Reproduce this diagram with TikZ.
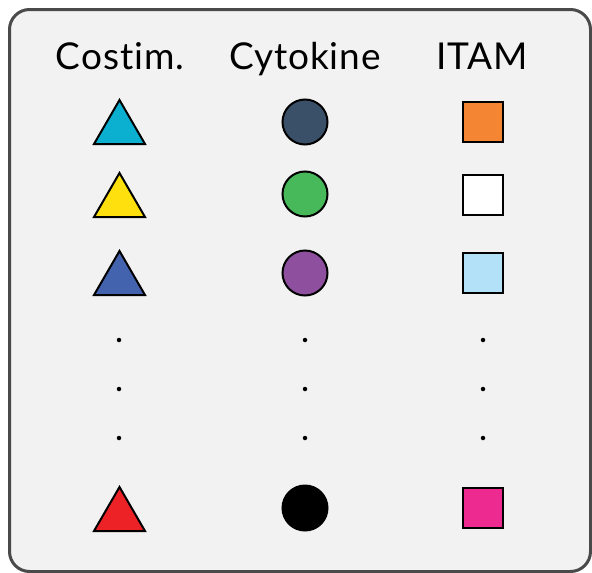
\documentclass[tikz,border=0pt]{standalone}
\usepackage{fontspec}
\setmainfont{Lato}[LetterSpace=2.5, Ligatures={NoCommon}]
\definecolor{bg}{HTML}{F2F2F2}
\definecolor{frame}{HTML}{4A4A4A}
\definecolor{tcyan}{HTML}{0BAFD0}
\definecolor{tyellow}{HTML}{FFE00F}
\definecolor{tblue}{HTML}{4463AE}
\definecolor{tred}{HTML}{EC2227}
\definecolor{cdark}{HTML}{3A5069}
\definecolor{cgreen}{HTML}{47B95A}
\definecolor{cpurple}{HTML}{8E4F9E}
\definecolor{sorange}{HTML}{F48532}
\definecolor{slblue}{HTML}{B3E1F7}
\definecolor{spink}{HTML}{EC2A8F}
\begin{document}
\begin{tikzpicture}[x=1pt,y=-1pt,
  hdr/.style={font=\fontsize{37}{40}\selectfont, text=black, inner sep=0pt, anchor=base},
  tri/.style={draw=black, line width=2pt, line join=miter},
  circ/.style={circle, draw=black, line width=2pt, minimum size=45pt, inner sep=0pt},
  sq/.style={rectangle, draw=black, line width=2pt, minimum size=40pt, inner sep=0pt},
  dotn/.style={circle, fill=black, minimum size=4.5pt, inner sep=0pt}]
\useasboundingbox (0,0) rectangle (592,573);
\draw[frame, fill=bg, line width=3pt, rounded corners=20pt] (9.5,9.5) rectangle (590.5,571.5);
% headers
\node[hdr] (h1) at (120,69.5) {Costim.};
\node[hdr] (h2) at (305,69.5) {Cytokine};
\node[hdr] (h3) at (482,69.5) {ITAM};
% triangles
\foreach \n/\y/\c in {t1/144/tcyan, t2/217/tyellow, t3/295/tblue, t4/531/tred}{
  \draw[tri, fill=\c] (94,\y) -- (119.5,\y-44) -- (145,\y) -- cycle;
  \coordinate (\n) at (119.5,\y-22);
}
% circles
\node[circ, fill=cdark] (c1) at (305,122) {};
\node[circ, fill=cgreen] (c2) at (305,194) {};
\node[circ, fill=cpurple] (c3) at (305,273) {};
\node[circ, fill=black] (c4) at (305,508) {};
% squares
\node[sq, fill=sorange] (s1) at (483,122) {};
\node[sq, fill=white] (s2) at (483,195) {};
\node[sq, fill=slblue] (s3) at (483,273) {};
\node[sq, fill=spink] (s4) at (483,508) {};
% dots
\foreach \x/\k in {119/a,305/b,483/c}{
  \node[dotn] (d1\k) at (\x,340) {};
  \node[dotn] (d2\k) at (\x,389) {};
  \node[dotn] (d3\k) at (\x,438) {};
}
\end{tikzpicture}
\end{document}
